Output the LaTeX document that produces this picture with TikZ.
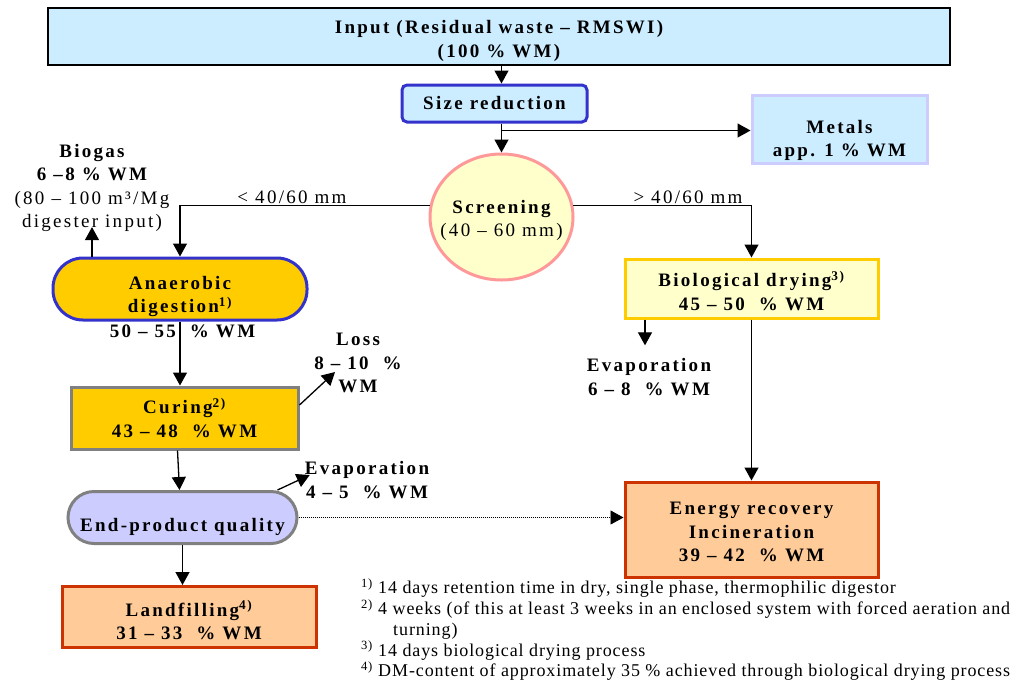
\documentclass[tikz,border=0pt]{standalone}
\usepackage{fontspec}
\setmainfont{Liberation Serif}[LetterSpace=12]
\newfontfamily\notefont{Liberation Serif}[LetterSpace=5]
\usetikzlibrary{arrows.meta, calc, shapes.geometric}

\definecolor{skyfill}{HTML}{CCECFF}
\definecolor{royal}{HTML}{3333CC}
\definecolor{lavender}{HTML}{CCCCFF}
\definecolor{gold}{HTML}{FFCC00}
\definecolor{cream}{HTML}{FFFFCC}
\definecolor{salmon}{HTML}{FF9999}
\definecolor{peach}{HTML}{FFCC99}
\definecolor{rust}{HTML}{CC3300}
\definecolor{slate}{HTML}{808080}

% strut in the first line that pushes the text of a box down by #1 pt
\newcommand{\sink}[1]{\rule{0pt}{\dimexpr14pt+#1pt*2\relax}}

\tikzset{
  flowbox/.style = {draw, line width=3pt, align=center, inner sep=0pt,
    font=\fontsize{19}{23.5}\selectfont\bfseries},
  flowtext/.style = {align=center, inner sep=0pt,
    font=\fontsize{19}{23.5}\selectfont\bfseries},
  flowlabel/.style = {inner sep=0pt, font=\fontsize{19}{23.5}\selectfont},
  flow/.style = {line width=1.3pt, -{Triangle[length=13pt,width=14pt]}},
}

\begin{document}
\begin{tikzpicture}[x=1pt, y=-1pt]
\useasboundingbox (0,0) rectangle (1020,681);

% top of the line
\node[flowbox, line width=1.2pt, fill=skyfill, minimum width=902pt, minimum height=57pt] (input) at (499,36.5) {\sink{4}Input (Residual waste – RMSWI)\\(100 \% WM)};
\node[flowbox, draw=royal, fill=skyfill, rounded corners=5pt, minimum width=185pt, minimum height=37pt] (sizered) at (494.5,103.5) {Size reduction};
\node[flowbox, draw=lavender, fill=skyfill, minimum width=175pt, minimum height=68pt] (metals) at (839.5,129) {\sink{11}Metals\\app. 1 \% WM};
\node[flowbox, ellipse, inner xsep=-14pt, draw=salmon, fill=cream, minimum width=143pt, minimum height=126pt] (screen) at (501.5,217) {\sink{3}Screening\\\mdseries(40 – 60 mm)};

\draw[flow] (input.south -| screen.north) -- (sizered.north -| screen.north);
\draw[flow] (sizered.south -| screen.north) -- (screen.north);
\coordinate (split) at ($(sizered.south -| screen.north)+(0,7)$);
\draw[flow] (split) -- (split -| metals.west);

% wet branch
\node[flowbox, draw=royal, fill=gold, rounded corners=30pt, minimum width=254pt, minimum height=62pt] (anaer) at (180,289) {\sink{7}Anaerobic\\digestion\textsuperscript{1)}};
\node[flowtext] (anaerval) at (182.5,331) {50 – 55~~\% WM};
\node[flowtext] (biogas) at (92,188) {Biogas\\6 –8 \% WM\\\mdseries (80 – 100 m³/Mg\\\mdseries digester input)};
\node[flowbox, draw=slate, fill=gold, minimum width=227pt, minimum height=62pt] (curing) at (184.5,418) {Curing\textsuperscript{2)}\\43 – 48~~\% WM};
\node[flowtext] (loss) at (358,363) {Loss\\8 – 10~~\%\\WM};
\node[flowbox, draw=slate, fill=lavender, rounded corners=26pt, minimum width=229pt, minimum height=52pt] (endprod) at (182.5,517.5) {\sink{9}End-product quality};
\node[flowtext] (evap1) at (367,480) {Evaporation\\4 – 5~~\% WM};
\node[flowbox, draw=rust, fill=peach, minimum width=254pt, minimum height=61pt] (landfill) at (189,617) {\sink{4}Landfilling\textsuperscript{4)}\\31 – 33~~\% WM};

\node[flowlabel] (finelabel) at (292,197) {< 40/60 mm};
\draw[flow] (screen.171) -| (anaer.north);
\draw[flow] (anaer.north -| biogas.south) -- ($(biogas.south)+(0,-5)$);
\draw[flow] (anaer.south) -- (curing.north -| anaer.south);
\draw[flow] ($(curing.east)+(0,-13)$) -- ($(loss)+(-23,9)$);
\draw[flow] ($(curing.south)+(-7,0)$) -- ($(endprod.north)+(-3,0)$);
\draw[flow] ($(endprod.north east)+(-21,0)$) -- ($(evap1.west)+(5,-5)$);
\draw[flow] (endprod.south) -- (endprod.south |- landfill.north);

% dry branch
\node[flowbox, draw=gold, fill=cream, minimum width=253pt, minimum height=59pt] (biodry) at (751.5,288.5) {\sink{3}Biological drying\textsuperscript{3)}\\45 – 50~~\% WM};
\node[flowtext] (evap2) at (649,377) {Evaporation\\6 – 8~~\% WM};
\node[flowbox, draw=rust, fill=peach, minimum width=253pt, minimum height=95pt] (energy) at (751.5,529.5) {\sink{2}Energy recovery\\Incineration\\39 – 42~~\% WM};

\node[flowlabel] (coarselabel) at (688,197) {> 40/60 mm};
\draw[flow] (screen.9) -| (biodry.north);
\draw[flow] ($(biodry.south -| evap2.north)+(-4,0)$) -- ($(evap2.north)+(-4,-13)$);
\draw[flow] (biodry.south) -- (energy.north);
\draw[line width=0.8pt, dash pattern=on 1pt off 1pt, -{Triangle[length=13pt,width=14pt]}] (endprod.east) -- (energy.west |- endprod.east);

% footnotes
\node[anchor=north west, align=left, inner sep=0pt, font=\notefont\fontsize{18}{20.8}\selectfont] (notes) at (361,578.5) {%
\textsuperscript{1)} 14 days retention time in dry, single phase, thermophilic digestor\\
\textsuperscript{2)} 4 weeks (of this at least 3 weeks in an enclosed system with forced aeration and\\
\hspace*{32pt}turning)\\
\textsuperscript{3)} 14 days biological drying process\\
\textsuperscript{4)} DM-content of approximately 35 \% achieved through biological drying process};
\end{tikzpicture}
\end{document}
